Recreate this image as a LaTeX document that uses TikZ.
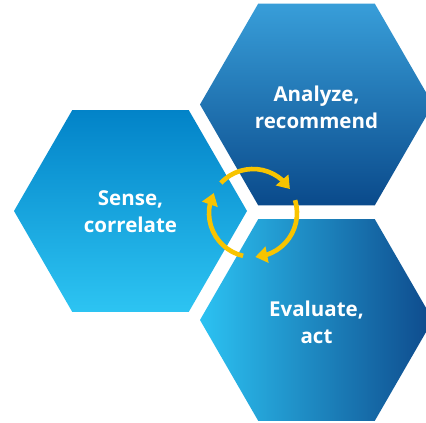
\documentclass[tikz,border=0pt]{standalone}
\usepackage{fontspec}
\newfontfamily\hexfont{Open Sans}
\usetikzlibrary{arrows.meta,bending}

% regular hexagon, flat top and bottom, circumradius 116.5
\newcommand\hexat[2]{(#1+116.5,#2) -- (#1+58.25,#2+100.9) -- (#1-58.25,#2+100.9) -- (#1-116.5,#2) -- (#1-58.25,#2-100.9) -- (#1+58.25,#2-100.9) -- cycle}

\definecolor{senseTop}{HTML}{0283C8}
\definecolor{senseBot}{HTML}{2DC4F2}
\definecolor{anaTop}{HTML}{389ED9}
\definecolor{anaBot}{HTML}{0A4A8B}
\definecolor{evalLeft}{HTML}{2CC2F2}
\definecolor{evalRight}{HTML}{0E4A8C}
\definecolor{cycleYellow}{HTML}{F8C400}

\tikzset{
  hexlabel/.style={text=white, align=center, font=\hexfont\bfseries\fontsize{20.5}{27}\selectfont},
  cyclearrow/.style={draw=cycleYellow, line width=4.6pt, -{Triangle[width=16pt,length=12pt]}}
}

\begin{document}
\begin{tikzpicture}[x=1pt,y=1pt]
  \useasboundingbox (0,0) rectangle (426,423);
  \clip (0,0) rectangle (426,423);
  \fill[white] (0,0) rectangle (426,423);

  % the three cells
  \shade[top color=senseTop, bottom color=senseBot] \hexat{130.5}{212};
  \shade[top color=anaTop, bottom color=anaBot] \hexat{316.5}{318.5};
  \shade[left color=evalLeft, right color=evalRight] \hexat{316.5}{103};

  \node[hexlabel] (sense) at (130.5,211) {Sense,\\correlate};
  \node[hexlabel] (analyze) at (316.5,316) {Analyze,\\recommend};
  \node[hexlabel] (evaluate) at (316.5,101) {Evaluate,\\act};

  % clockwise cycle in the middle
  \coordinate (ring) at (253,210);
  \draw[cyclearrow] ([shift={(137:44pt)}]ring) arc[start angle=137, end angle=33, radius=44pt];
  \draw[cyclearrow] ([shift={(17:44pt)}]ring) arc[start angle=17, end angle=-87, radius=44pt];
  \draw[cyclearrow] ([shift={(-103:44pt)}]ring) arc[start angle=-103, end angle=-207, radius=44pt];
\end{tikzpicture}
\end{document}
